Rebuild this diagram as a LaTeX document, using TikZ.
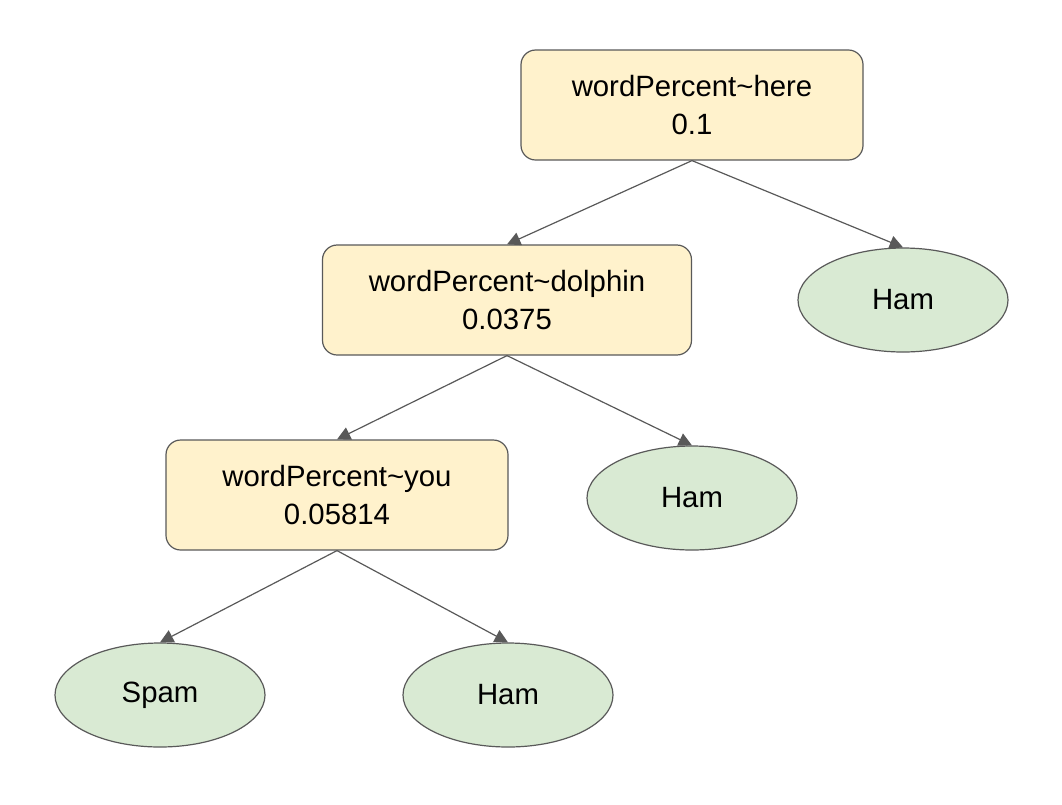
\documentclass[tikz,border=0pt]{standalone}
\usepackage{fontspec}
\setmainfont{Liberation Sans}
\usetikzlibrary{shapes.geometric,arrows.meta}
\definecolor{splitfill}{HTML}{FFF2CC}
\definecolor{leaffill}{HTML}{D9EAD3}
\definecolor{edgegray}{HTML}{595959}
\tikzset{
  split/.style={draw=edgegray, fill=splitfill, rounded corners=11pt, line width=0.9pt,
    minimum height=82.5pt, align=center, font=\fontsize{22}{28}\selectfont, inner sep=0pt},
  leaf/.style={draw=edgegray, fill=leaffill, ellipse, line width=0.9pt,
    minimum width=157.5pt, minimum height=78pt, inner sep=0pt, font=\fontsize{22}{28}\selectfont},
  branch/.style={draw=edgegray, line width=0.9pt, -{Triangle[length=10pt,width=10pt]}}
}
\begin{document}
\begin{tikzpicture}[x=0.75pt,y=-0.75pt]
        \useasboundingbox (0,0) rectangle (1062,804);
        % SPLITS
        \node[split, minimum width=256.5pt] (here) at (692,105) {wordPercent\textasciitilde here\\0.1};
        \node[split, minimum width=276.75pt] (dolphin) at (507,300) {wordPercent\textasciitilde dolphin\\0.0375};
        \node[split, minimum width=256.5pt] (you) at (337,495) {wordPercent\textasciitilde you\\0.05814};

        % LEAVES
        \node[leaf] (hamA) at (903,300) {Ham};
        \node[leaf] (hamB) at (692,498) {Ham};
        \node[leaf] (spam) at (160,695) {Spam};
        \node[leaf] (hamC) at (508,695) {Ham};

        % ARROWS
        \draw[branch] (here.south) -- (dolphin.north);
        \draw[branch] (here.south) -- (hamA.north);
        \draw[branch] (dolphin.south) -- (you.north);
        \draw[branch] (dolphin.south) -- (hamB.north);
        \draw[branch] (you.south) -- (spam.north);
        \draw[branch] (you.south) -- (hamC.north);
      \end{tikzpicture}
\end{document}
